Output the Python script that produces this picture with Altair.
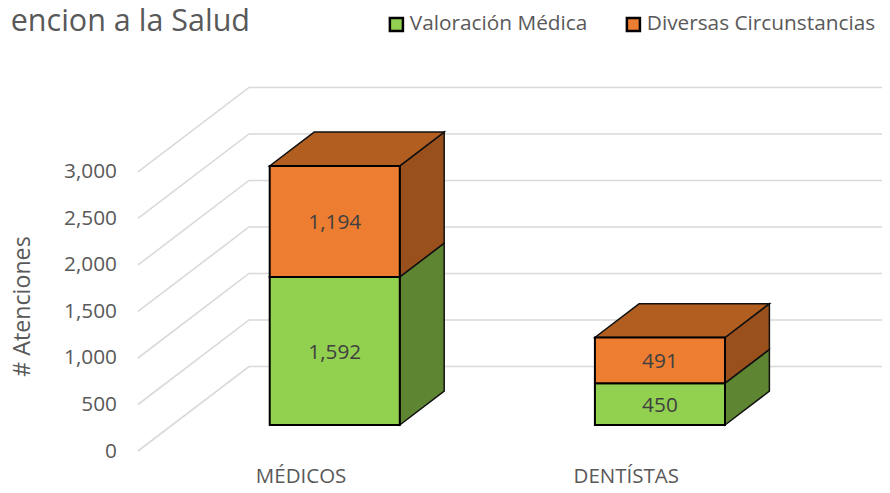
import altair as alt
import pandas as pd

categories = ["MÉDICOS", "DENTÍSTAS"]
series = ["Valoración Médica", "Diversas Circunstancias"]
valoracion = [1592, 450]
diversas = [1194, 491]
y_ticks = [0, 500, 1000, 1500, 2000, 2500, 3000]
front_colors = ["#92D050", "#ED7D31"]
side_colors = ["#5E8531", "#9A501C"]
top_color = "#B25E20"
grid_color = "#D9D9D9"
text_color = "#595959"
value_color = "#404040"
FONT = "Open Sans"

# oblique projection: depth 0 = front of the floor, depth 1 = back wall
DEPTH_X = 0.3413    # category units per unit of depth
DEPTH_Y = 908.6     # value units per unit of depth
D0, D1 = 0.3077, 0.7077
HALF = 0.2
X_MAX = 2.2878
Y_MAX = 4763

grid = []
for v in y_ticks:
    grid += [
        {"tick": v, "o": 0, "x": 0, "y": v},
        {"tick": v, "o": 1, "x": DEPTH_X, "y": v + DEPTH_Y},
        {"tick": v, "o": 2, "x": X_MAX, "y": v + DEPTH_Y},
    ]
grid = pd.DataFrame(grid)

front, side, top, labels = [], [], [], []
for i, cat in enumerate(categories):
    c = i + 0.5
    base = 0
    for s, vals in zip(series, [valoracion, diversas]):
        lo, hi = base, base + vals[i]
        base = hi
        xl = c - HALF + D0 * DEPTH_X
        xr = c + HALF + D0 * DEPTH_X
        ylo, yhi = lo + D0 * DEPTH_Y, hi + D0 * DEPTH_Y
        front.append({"series": s, "cat": cat, "x": xl, "x2": xr, "y": ylo, "y2": yhi})
        labels.append({"x": (xl + xr) / 2, "y": (ylo + yhi) / 2, "v": vals[i]})
        for d in (D0, D1):
            side.append({"series": s, "cat": cat,
                         "x": c + HALF + d * DEPTH_X,
                         "y": lo + d * DEPTH_Y, "y2": hi + d * DEPTH_Y})
    for d in (D0, D1):
        top.append({"cat": cat, "y": base + d * DEPTH_Y,
                    "x": c - HALF + d * DEPTH_X, "x2": c + HALF + d * DEPTH_X})
front, side, top, labels = map(pd.DataFrame, (front, side, top, labels))

xs = alt.Scale(domain=[0, X_MAX], nice=False, zero=False)
ys = alt.Scale(domain=[0, Y_MAX], nice=False, zero=False)
cat_expr = "datum.value < 1 ? '%s' : '%s'" % tuple(categories)

grid_layer = alt.Chart(grid).mark_line(color=grid_color, strokeWidth=1.6, interpolate="linear").encode(
    x=alt.X("x:Q", scale=xs, title=None,
            axis=alt.Axis(values=[0.5, 1.5], labelExpr=cat_expr, domain=False, ticks=False, grid=False,
                          labelFont=FONT, labelFontSize=20.5, labelColor=text_color, labelPadding=15,
                          labelFlush=False, labelOverlap=False)),
    y=alt.Y("y:Q", scale=ys, title="# Atenciones",
            axis=alt.Axis(values=y_ticks, format=",d", domain=False, ticks=False, grid=False,
                          labelFont=FONT, labelFontSize=20.8, labelColor=text_color, labelPadding=21.5,
                          titleFont=FONT, titleFontSize=23.2, titleColor=text_color, titleFontWeight="normal",
                          titleX=-104, titleY=298)),
    detail="tick:N",
    order="o:Q",
)

layers = [grid_layer]
for s, col in zip(series, side_colors):
    layers.append(
        alt.Chart(side[side.series == s]).mark_area(
            orient="vertical", color=col, stroke="#111111", strokeWidth=1.5, opacity=1
        ).encode(
            x=alt.X("x:Q", scale=xs),
            y=alt.Y("y:Q", scale=ys, stack=None),
            y2="y2:Q",
            detail="cat:N",
        )
    )
layers.append(
    alt.Chart(top).mark_area(
        orient="horizontal", color=top_color, stroke="#111111", strokeWidth=1.5, opacity=1
    ).encode(
        y=alt.Y("y:Q", scale=ys),
        x=alt.X("x:Q", scale=xs, stack=None),
        x2="x2:Q",
        detail="cat:N",
    )
)
layers.append(
    alt.Chart(front).mark_bar(stroke="#000000", strokeWidth=2, opacity=1).encode(
        x=alt.X("x:Q", scale=xs),
        x2="x2:Q",
        y=alt.Y("y:Q", scale=ys),
        y2="y2:Q",
        color=alt.Color(
            "series:N",
            scale=alt.Scale(domain=series, range=front_colors),
            title=None,
            legend=alt.Legend(
                orient="none", legendX=248, legendY=6, direction="horizontal", columns=2,
                symbolType="square", symbolSize=170, symbolStrokeColor="#000000", symbolStrokeWidth=2.5,
                symbolOpacity=1, labelFont=FONT, labelFontSize=20.8, labelColor=text_color,
                columnPadding=33, labelOffset=3, labelLimit=300,
            ),
        ),
    )
)
layers.append(
    alt.Chart(labels).mark_text(font=FONT, fontSize=20.8, color=value_color, baseline="middle", dy=2).encode(
        x=alt.X("x:Q", scale=xs),
        y=alt.Y("y:Q", scale=ys),
        text=alt.Text("v:Q", format=",d"),
    )
)
layers.append(
    alt.Chart(pd.DataFrame({"t": ["encion a la Salud"]})).mark_text(
        font=FONT, fontSize=30.5, color=text_color, align="right", baseline="alphabetic"
    ).encode(x=alt.value(112), y=alt.value(23), text="t:N")
)

chart = alt.layer(*layers).properties(
    width=744,
    height=443,
    padding={"left": 130, "top": 0, "right": 0, "bottom": 34},
    autosize=alt.AutoSizeParams(type="none"),
    background="#FFFFFF",
).configure_view(stroke=None)

chart.save("out.html", embed_options={"renderer": "svg", "actions": False})
